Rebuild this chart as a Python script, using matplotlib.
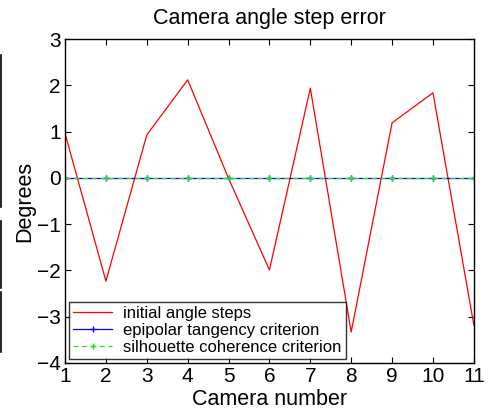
import matplotlib
matplotlib.use("Agg")
import matplotlib.pyplot as plt
from matplotlib.lines import Line2D

plt.rcParams['font.family'] = ['Liberation Sans', 'DejaVu Sans']

# donnees
cameras = [1, 2, 3, 4, 5, 6, 7, 8, 9, 10, 11]
initial_steps = [0.96, -2.23, 0.93, 2.12, -0.01, -1.99, 1.94, -3.33, 1.19, 1.84, -3.18]
epipolar = [0, 0, 0, 0, 0, 0, 0, 0, 0, 0, 0]
silhouette = [0, 0, 0, 0, 0, 0, 0, 0, 0, 0, 0]
x_ticks = [1, 2, 3, 4, 5, 6, 7, 8, 9, 10, 11]
y_ticks = [-4, -3, -2, -1, 0, 1, 2, 3]

fig = plt.figure(figsize=(4.89, 4.12), dpi=100)
ax = fig.add_axes([0.133, 0.119, 0.836, 0.786])

ax.plot(cameras, initial_steps, color='red', lw=0.9, label='initial angle steps')
ax.plot(cameras, epipolar, color='blue', lw=0.9, marker='+', ms=5, mew=1,
        label='epipolar tangency criterion')
ax.plot(cameras, silhouette, color='#22dd22', lw=0.9, ls=(0, (4, 3)), marker='+', ms=5, mew=1,
        label='silhouette coherence criterion')

ax.set_xlim(1, 11)
ax.set_ylim(-4, 3)
ax.set_xticks(x_ticks)
ax.set_yticks(y_ticks)
ax.tick_params(direction='in', top=True, right=True, labelsize=15, length=4, pad=3)
ax.set_yticklabels(['\u2212' + str(-t) if t < 0 else str(t) for t in y_ticks])
for s in ax.spines.values():
    s.set_linewidth(1.0)

ax.set_title('Camera angle step error', fontsize=15.5, pad=11)
ax.set_xlabel('Camera number', fontsize=15.5, labelpad=2)
ax.set_ylabel('Degrees', fontsize=15.5, labelpad=1)

leg = ax.legend(loc='lower left', fontsize=12, frameon=True, fancybox=False,
                edgecolor='black', borderaxespad=0.25, handlelength=2.3,
                labelspacing=0.1, borderpad=0.25, handletextpad=0.7)
leg.get_frame().set_linewidth(1.0)

# trait noir a gauche de l'image
for y0, y1 in [(55, 207), (221, 288), (292, 352)]:
    fig.add_artist(Line2D([1.5 / 489, 1.5 / 489], [1 - y0 / 412, 1 - y1 / 412],
                          color='black', lw=1.2))

fig.savefig('out.png', dpi=100)
